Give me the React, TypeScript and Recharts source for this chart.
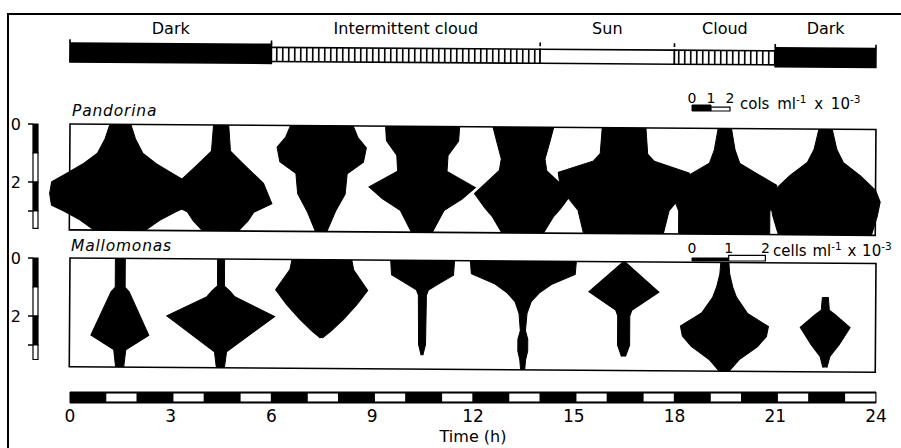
import React from "react"
import { ComposedChart, Area, Line, XAxis, YAxis, ReferenceArea, ReferenceLine } from "recharts"

// one kite (vertical profile) every 3 h
const sampleTimes = [1.5, 4.5, 7.5, 10.5, 13.5, 16.5, 19.5, 22.5]

// Pandorina: [depth (m), cells ml-1 x 10^-3]
const pan1 = [[0, 1.1], [0.5, 1.6], [1, 2.4], [1.35, 3.8], [1.7, 5.6], [2, 7.2], [2.4, 7.4], [2.8, 7.2], [3, 5.9], [3.3, 4.2], [3.65, 2.7]]
const pan2 = [[0, 0.8], [0.9, 1.0], [1.35, 2.4], [2, 4.5], [2.7, 5.4], [3, 3.5], [3.3, 2.9], [3.65, 1.9]]
const pan3 = [[0, 3.3], [0.4, 3.8], [0.75, 4.7], [1.25, 4.4], [1.65, 2.7], [2.35, 2.5], [2.95, 1.5], [3.65, 0.6]]
const pan4 = [[0, 3.9], [0.5, 3.8], [1.0, 2.7], [1.55, 2.6], [2.1, 5.6], [2.5, 4.2], [2.9, 2.3], [3.65, 1.1]]
const pan5 = [[0, 3.2], [0.5, 2.8], [1.1, 2.3], [1.5, 2.5], [2.3, 5.1], [2.8, 4.0], [3.1, 3.2], [3.65, 2.2]]
const pan6 = [[0, 2.3], [0.9, 2.5], [1.15, 3.2], [1.55, 6.9], [2.05, 6.7], [2.45, 5.8], [2.85, 4.8], [3.65, 4.2]]
const pan7 = [[0, 0.7], [0.75, 1.1], [1.2, 1.6], [1.55, 3.4], [1.95, 5.5], [2.45, 5.3], [2.85, 4.8], [3.65, 4.8]]
const pan8 = [[0, 0.7], [0.7, 1.2], [1.15, 1.9], [1.6, 3.7], [2.1, 5.3], [2.5, 5.8], [3.0, 5.5], [3.65, 4.9]]

// Mallomonas: [depth (m), cells ml-1 x 10^-3]
const mal1 = [[0, 0.27], [1.0, 0.27], [1.15, 0.49], [2.65, 1.58], [3.15, 0.33], [3.75, 0.22]]
const mal2 = [[0, 0.19], [0.93, 0.19], [1.1, 0.49], [1.3, 0.76], [1.97, 2.94], [3.2, 0.33], [3.75, 0.22]]
const mal3 = [[0, 1.63], [0.35, 1.74], [1.05, 2.51], [1.55, 1.91], [2.05, 1.2], [2.45, 0.54], [2.7, 0.05]]
const mal4 = [[0, 1.74], [0.5, 1.69], [0.77, 0.98], [1.02, 0.33], [1.2, 0.22], [2.9, 0.19], [3.27, 0.05]]
const mal5 = [[0, 2.89], [0.45, 2.83], [0.8, 1.53], [1.1, 0.87], [1.4, 0.44], [1.8, 0.22], [2.4, 0.14], [2.7, 0.27], [3.1, 0.27], [3.4, 0.16], [3.75, 0.11]]
const mal6 = [[0, 0.05], [1.04, 1.91], [1.67, 0.44], [1.87, 0.33], [2.87, 0.33], [3.27, 0.11]]
const mal7 = [[0, 0.22], [0.4, 0.27], [0.85, 0.44], [1.2, 0.65], [1.75, 1.25], [2.2, 2.4], [2.55, 2.29], [2.9, 1.8], [3.35, 0.82], [3.75, 0.27]]
const mal8 = [[1.17, 0.16], [1.62, 0.22], [1.77, 0.54], [2.22, 1.36], [2.82, 0.76], [3.22, 0.27], [3.6, 0.11]]

// light regime along the top
const lightStart = [0, 6, 14, 18, 21]
const lightEnd = [6, 14, 18, 21, 24]
const lightKind = ["dark", "cloud", "sun", "cloud", "dark"]
const lightLabel = ["Dark", "Intermittent cloud", "Sun", "Cloud", "Dark"]

const timeTicks = [0, 3, 6, 9, 12, 15, 18, 21, 24]
const whiteHours = [1, 3, 5, 7, 9, 11, 13, 15, 17, 19, 21, 23]
const depthTicks = [0, 2, 3]
const panDepthBar = [0, 1, 2, 3, 3.6]
const malDepthBar = [0, 1, 2, 3, 3.5]
const scaleTicks = [0, 1, 2]

const FONT = "DejaVu Sans, sans-serif"
const PX_PER_HOUR = 806 / 24
const PX_PER_M = 29
const T_MIN = -1
const T_MAX = 25
const CHART_W = 920
const PAD_L = 70 - PX_PER_HOUR
const PAD_R = CHART_W - (876 + PX_PER_HOUR)
const ROT = "rotate(0.39deg)"
const PAN_UNIT_PX = 19
const MAL_UNIT_PX = 36.7

// two corner rows so that axes and reference marks have a domain to work on
const timeFrame = [{ t: T_MIN, v: 0 }, { t: T_MAX, v: 1 }]

function toKite(rows: number[][], t: number, unitPx: number) {
  return rows.map(([depth, n]) => {
    const hw = (n * unitPx) / 2 / PX_PER_HOUR
    return { depth, range: [t - hw, t + hw] }
  })
}

function KitePanel({ kites, unitPx, maxDepth, plotTop }: { kites: number[][][]; unitPx: number; maxDepth: number; plotTop: number }) {
  const h = maxDepth * PX_PER_M + 12
  return (
    <div style={{ position: "absolute", left: 0, top: plotTop - 6, transform: ROT, transformOrigin: "70px 6px" }}>
      <ComposedChart layout="vertical" width={CHART_W} height={h} margin={{ top: 6, bottom: 6, left: PAD_L, right: PAD_R }}>
        <XAxis type="number" domain={[T_MIN, T_MAX]} hide />
        <YAxis type="number" dataKey="depth" domain={[0, maxDepth]} hide />
        <ReferenceArea x1={0} x2={24} y1={0} y2={maxDepth} fill="none" stroke="#000" strokeWidth={1.6} />
        {kites.map((k, i) => (
          <Area
            key={i}
            data={toKite(k, sampleTimes[i], unitPx)}
            dataKey="range"
            type="linear"
            fill="#000"
            fillOpacity={1}
            stroke="#000"
            strokeWidth={1}
            dot={false}
            activeDot={false}
            isAnimationActive={false}
          />
        ))}
      </ComposedChart>
    </div>
  )
}

function DepthBar({ bounds, maxDepth, plotTop }: { bounds: number[]; maxDepth: number; plotTop: number }) {
  const frame = [{ d: 0, v: 0 }, { d: maxDepth, v: 1 }]
  return (
    <div style={{ position: "absolute", left: 0, top: plotTop - 14 }}>
      <ComposedChart layout="vertical" data={frame} width={40} height={maxDepth * PX_PER_M + 28} margin={{ top: 14, bottom: 14, left: 0, right: 2 }}>
        <XAxis type="number" dataKey="v" domain={[0, 1]} hide />
        <YAxis
          type="number"
          dataKey="d"
          domain={[0, maxDepth]}
          ticks={depthTicks}
          interval={0}
          width={33}
          axisLine={false}
          tickSize={5}
          tickMargin={7}
          tickLine={{ stroke: "#000", strokeWidth: 1.5 }}
          tickFormatter={(v: number) => (v === 3 ? "" : String(v))}
          tick={{ fontSize: 16, fill: "#000", fontFamily: FONT }}
        />
        <Line dataKey="v" stroke="none" dot={false} activeDot={false} isAnimationActive={false} />
        {bounds.slice(0, -1).map((b, i) => (
          <ReferenceArea key={i} x1={0} x2={1} y1={b} y2={bounds[i + 1]} fill={i % 2 === 0 ? "#000" : "#fff"} fillOpacity={1} stroke="#000" strokeWidth={1.2} />
        ))}
      </ComposedChart>
    </div>
  )
}

function ScaleBar({ unitPx, left, plotTop, blackTop, whiteTop }: { unitPx: number; left: number; plotTop: number; blackTop: number; whiteTop: number }) {
  const frame = [{ n: 0, v: 0 }, { n: 2, v: 1 }]
  return (
    <div style={{ position: "absolute", left: left - 8, top: plotTop - 15 }}>
      <ComposedChart data={frame} width={unitPx * 2 + 16} height={22} margin={{ top: 0, bottom: 1, left: 8, right: 8 }}>
        <XAxis
          type="number"
          dataKey="n"
          domain={[0, 2]}
          ticks={scaleTicks}
          interval={0}
          orientation="top"
          height={15}
          axisLine={false}
          tickLine={false}
          tickSize={0}
          tickMargin={2}
          tick={{ fontSize: 14, fill: "#000", fontFamily: FONT }}
        />
        <YAxis type="number" domain={[0, 1]} hide />
        <Line dataKey="v" stroke="none" dot={false} activeDot={false} isAnimationActive={false} />
        <ReferenceArea x1={0} x2={1} y1={0} y2={blackTop} fill="#000" fillOpacity={1} stroke="#000" strokeWidth={1} />
        <ReferenceArea x1={1} x2={2} y1={0} y2={whiteTop} fill="#fff" fillOpacity={1} stroke="#000" strokeWidth={1.2} />
      </ComposedChart>
    </div>
  )
}

export default function App() {
  const labelPos = lightStart.map((s, i) => (s + lightEnd[i]) / 2)
  const text: React.CSSProperties = { position: "absolute", fontFamily: FONT, color: "#000", whiteSpace: "nowrap" }
  const sup: React.CSSProperties = { fontSize: "0.7em", verticalAlign: "super", lineHeight: 0 }
  return (
    <div style={{ position: "absolute", left: 0, top: 0, width: 901, height: 448, overflow: "hidden", background: "#fff", fontFamily: FONT }}>
      <div style={{ position: "absolute", left: 7, top: 13, width: 900, height: 440, borderTop: "2px solid #000", borderLeft: "2.5px solid #000" }} />

      {/* light regime labels */}
      <div style={{ position: "absolute", left: 0, top: 0 }}>
        <ComposedChart data={timeFrame} width={CHART_W} height={40} margin={{ top: 0, bottom: 0, left: PAD_L, right: PAD_R }}>
          <XAxis
            type="number"
            dataKey="t"
            domain={[T_MIN, T_MAX]}
            ticks={labelPos}
            interval={0}
            tickFormatter={(_v: number, i: number) => lightLabel[i]}
            axisLine={false}
            tickLine={false}
            tickSize={0}
            tickMargin={13}
            height={30}
            tick={{ fontSize: 16, fill: "#000", fontFamily: FONT }}
          />
          <YAxis type="number" domain={[0, 1]} hide />
          <Line dataKey="v" stroke="none" dot={false} activeDot={false} isAnimationActive={false} />
        </ComposedChart>
      </div>

      {/* light regime bar */}
      <div style={{ position: "absolute", left: 0, top: 36, transform: ROT, transformOrigin: "70px 7px" }}>
        <ComposedChart data={timeFrame} width={CHART_W} height={28} margin={{ top: 7, bottom: 2, left: PAD_L, right: PAD_R }}>
          <defs>
            <pattern id="ladder" patternUnits="userSpaceOnUse" width={6} height={40}>
              <rect width={6} height={40} fill="#fff" />
              <rect x={0} width={1.6} height={40} fill="#000" />
            </pattern>
          </defs>
          <XAxis type="number" dataKey="t" domain={[T_MIN, T_MAX]} hide />
          <YAxis type="number" domain={[0, 1]} hide />
          <Line dataKey="v" stroke="none" dot={false} activeDot={false} isAnimationActive={false} />
          {lightStart.map((s, i) => {
            const kind = lightKind[i]
            return (
              <ReferenceArea
                key={i}
                x1={s}
                x2={lightEnd[i]}
                y1={kind === "dark" ? 0 : 0.1}
                y2={kind === "dark" ? 1 : 0.84}
                fill={kind === "dark" ? "#000" : kind === "cloud" ? "url(#ladder)" : "#fff"}
                fillOpacity={1}
                stroke="#000"
                strokeWidth={1.6}
              />
            )
          })}
          {[0, ...lightEnd].map((x, i) => (
            <ReferenceLine key={i} segment={[{ x, y: 1 }, { x, y: 1.2 }]} stroke="#000" strokeWidth={1.6} ifOverflow="visible" />
          ))}
        </ComposedChart>
      </div>

      <div style={{ ...text, left: 72, top: 103, fontSize: 15.5, fontStyle: "italic", letterSpacing: 0.8, lineHeight: "17px" }}>Pandorina</div>
      <ScaleBar unitPx={PAN_UNIT_PX} left={692} plotTop={105} blackTop={1} whiteTop={0.65} />
      <div style={{ ...text, left: 740, top: 97, fontSize: 15, lineHeight: "15px", wordSpacing: 3 }}>
        cols ml<sup style={sup}>-1</sup> x 10<sup style={sup}>-3</sup>
      </div>
      <DepthBar bounds={panDepthBar} maxDepth={3.65} plotTop={124} />
      <KitePanel kites={[pan1, pan2, pan3, pan4, pan5, pan6, pan7, pan8]} unitPx={PAN_UNIT_PX} maxDepth={3.65} plotTop={124} />

      <div style={{ ...text, left: 71, top: 238, fontSize: 15.5, fontStyle: "italic", letterSpacing: 0.8, lineHeight: "17px" }}>Mallomonas</div>
      <ScaleBar unitPx={MAL_UNIT_PX} left={692} plotTop={255} blackTop={0.5} whiteTop={0.95} />
      <div style={{ ...text, left: 773, top: 244, fontSize: 15, lineHeight: "15px", wordSpacing: 1 }}>
        cells ml<sup style={sup}>-1</sup> x 10<sup style={sup}>-3</sup>
      </div>
      <DepthBar bounds={malDepthBar} maxDepth={3.75} plotTop={258} />
      <KitePanel kites={[mal1, mal2, mal3, mal4, mal5, mal6, mal7, mal8]} unitPx={MAL_UNIT_PX} maxDepth={3.75} plotTop={258} />

      {/* time scale */}
      <div style={{ position: "absolute", left: 0, top: 387 }}>
        <ComposedChart data={timeFrame} width={CHART_W} height={61} margin={{ top: 5, bottom: 0, left: PAD_L, right: PAD_R }}>
          <XAxis
            type="number"
            dataKey="t"
            domain={[T_MIN, T_MAX]}
            ticks={timeTicks}
            interval={0}
            axisLine={false}
            tickLine={false}
            tickSize={0}
            tickMargin={7}
            height={45}
            tick={{ fontSize: 17, fill: "#000", fontFamily: FONT }}
            label={{ value: "Time (h)", position: "insideBottom", offset: 6, fontSize: 16, fill: "#000", fontFamily: FONT }}
          />
          <YAxis type="number" domain={[0, 1]} hide />
          <Line dataKey="v" stroke="none" dot={false} activeDot={false} isAnimationActive={false} />
          <ReferenceArea x1={0} x2={24} y1={0} y2={1} fill="#000" fillOpacity={1} stroke="#000" strokeWidth={1} />
          {whiteHours.map((h) => (
            <ReferenceArea key={h} x1={h + 0.08} x2={h + 0.98} y1={0.14} y2={0.86} fill="#fff" fillOpacity={1} stroke="none" />
          ))}
        </ComposedChart>
      </div>
    </div>
  )
}
